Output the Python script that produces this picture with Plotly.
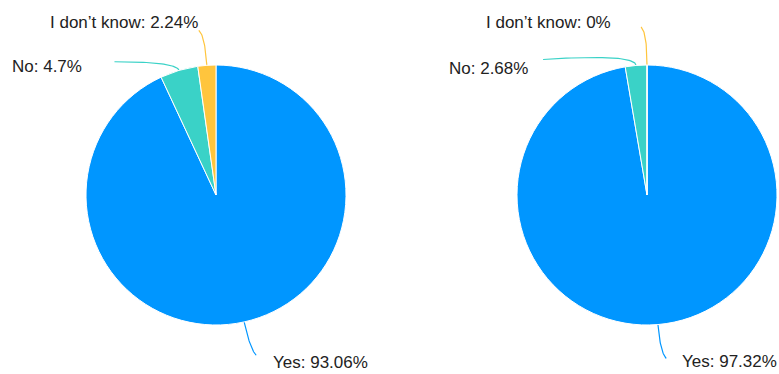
import math
import plotly.graph_objects as go

# Survey answers, two groups shown side by side
categories = ["Yes", "No", "I don\u2019t know"]
group_a = [93.06, 4.7, 2.24]
group_b = [97.32, 2.68, 0]

colors = ["#0096FF", "#3AD2C7", "#FFC53D"]

W, H = 779, 374
R = 130
centers = [(216, 195), (647, 195)]

# per-label leader layout: (radial length, bend dx, bend dy, text dx, text dy, text anchor)
leader_a = [
    (28, 6, 6, 15, 7, "left"),
    (9, -62, 0, -30, 5, "right"),
    (31, -6, -4, 1, -8, "right"),
]
leader_b = [
    (28, 6, 6, 14, 3, "left"),
    (12, -92, 6, -13, 9, "right"),
    (33, -6, -5, -28, -5, "right"),
]

FONT = dict(family="Liberation Sans, Arial, sans-serif", size=17, color="#222222")

fig = go.Figure()
annotations = []

for (cx, cy), values, leaders in zip(centers, [group_a, group_b], [leader_a, leader_b]):
    fig.add_trace(go.Pie(
        labels=categories,
        values=values,
        sort=False,
        direction="clockwise",
        rotation=0,
        marker=dict(colors=colors, line=dict(color="white", width=1)),
        textinfo="none",
        hoverinfo="skip",
        showlegend=False,
        domain=dict(x=[(cx - R) / W, (cx + R) / W], y=[1 - (cy + R) / H, 1 - (cy - R) / H]),
    ))

    total = sum(values)
    start = 0.0
    for cat, val, col, (ln, bdx, bdy, tdx, tdy, anchor) in zip(categories, values, colors, leaders):
        span = 360.0 * val / total
        mid = math.radians(start + span / 2)
        start += span
        ux, uy = math.sin(mid), -math.cos(mid)
        p0 = (cx + R * ux, cy + R * uy)
        p1 = (p0[0] + ln * ux, p0[1] + ln * uy)
        p2 = (p1[0] + bdx, p1[1] + bdy)
        xs, ys = [], []
        n = 30
        for i in range(n + 1):
            t = i / n
            a, b, c = (1 - t) ** 2, 2 * (1 - t) * t, t ** 2
            xs.append(a * p0[0] + b * p1[0] + c * p2[0])
            ys.append(a * p0[1] + b * p1[1] + c * p2[1])
        fig.add_trace(go.Scatter(
            x=xs, y=ys, mode="lines",
            line=dict(color=col, width=1.2),
            hoverinfo="skip", showlegend=False,
        ))
        annotations.append(dict(
            x=p2[0] + tdx, y=p2[1] + tdy, xref="x", yref="y",
            text=f"{cat}: {val:g}%", showarrow=False,
            xanchor=anchor, yanchor="middle", font=FONT,
        ))

fig.update_layout(
    width=W, height=H,
    margin=dict(l=0, r=0, t=0, b=0),
    paper_bgcolor="white", plot_bgcolor="rgba(0,0,0,0)",
    xaxis=dict(range=[0, W], visible=False, domain=[0, 1], fixedrange=True),
    yaxis=dict(range=[H, 0], visible=False, domain=[0, 1], fixedrange=True),
    annotations=annotations,
    hovermode=False,
)

fig.write_html("out.html")
